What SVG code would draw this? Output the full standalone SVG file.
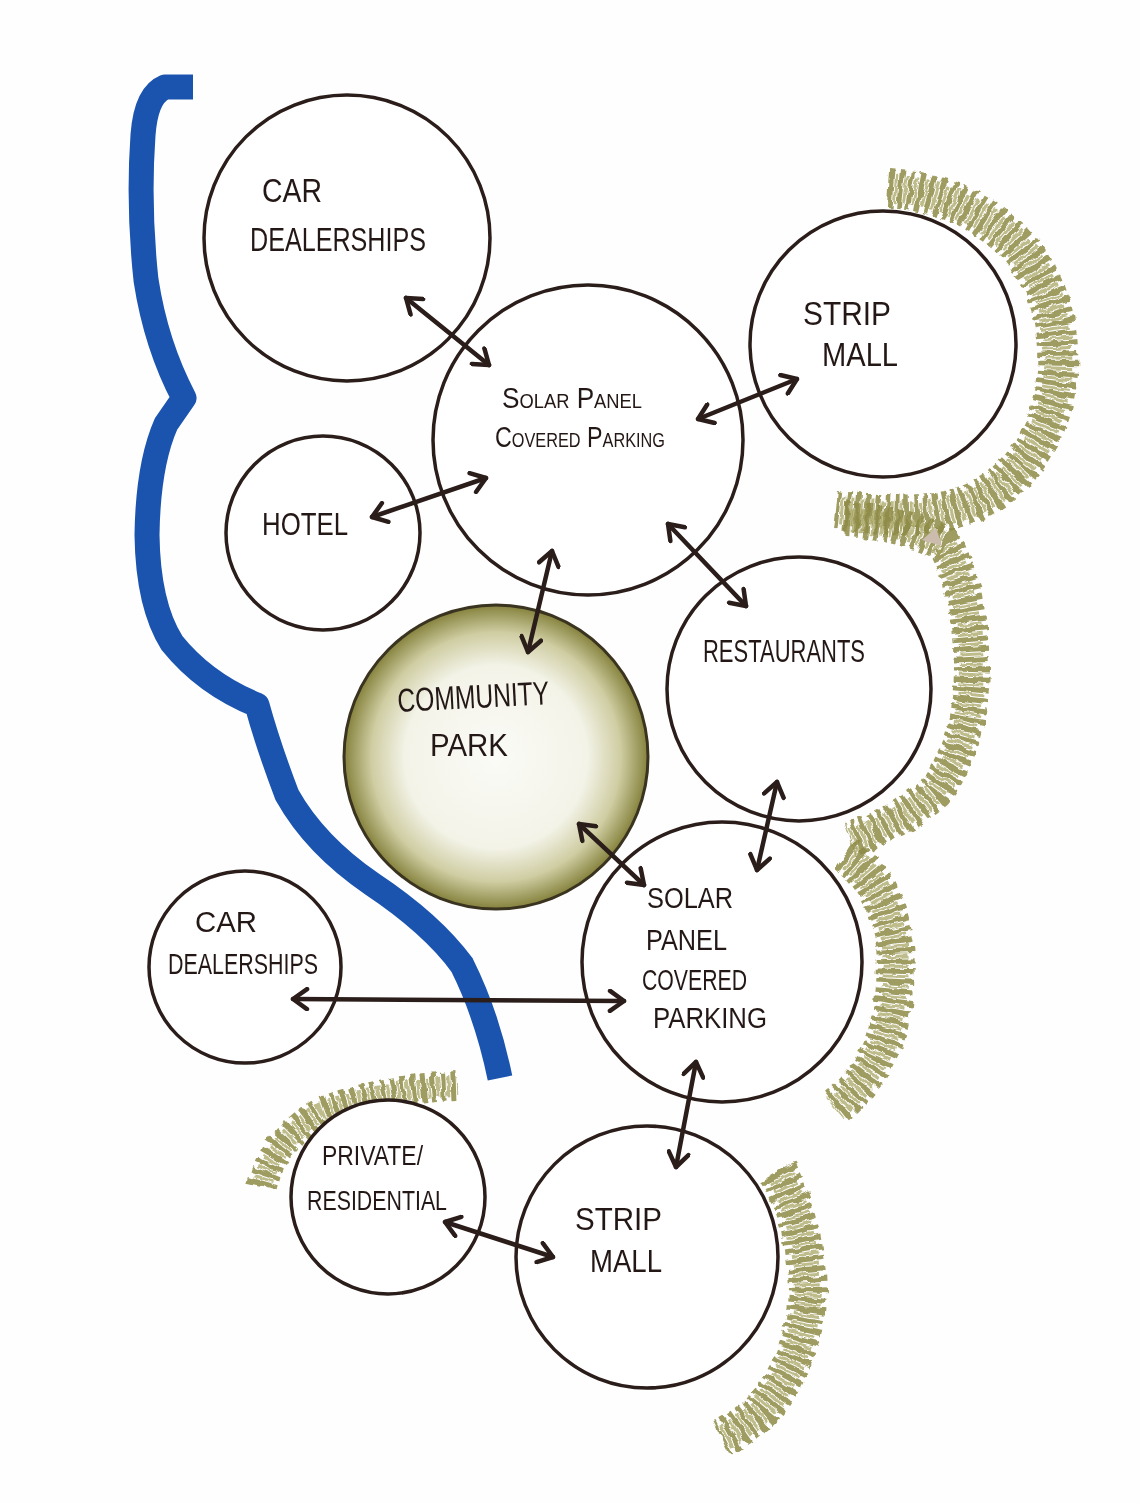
<svg xmlns="http://www.w3.org/2000/svg" width="1140" height="1503" viewBox="0 0 1140 1503">
<style>
.bubble{fill:#ffffff;stroke:#2a1d1a;stroke-width:3.5}
.lbl{font-family:"Liberation Sans","DejaVu Sans",sans-serif;fill:#241816;font-weight:normal}
.sc{font-variant:small-caps}
.conn{fill:none;stroke:#2a1d1a;stroke-width:4.5;stroke-linecap:round;marker-start:url(#chev);marker-end:url(#chev)}
.grass{fill:none;stroke:#8e8b45;stroke-linecap:butt;opacity:0.85}
.grass2{fill:none;stroke:#a3a05a;stroke-linecap:butt;opacity:0.7}
</style>
<defs>
<marker id="chev" viewBox="0 0 24 24" markerWidth="24" markerHeight="24" refX="21" refY="12" orient="auto-start-reverse" markerUnits="userSpaceOnUse">
<path d="M7,2 L21,12 L7,22" fill="none" stroke="#2a1d1a" stroke-width="4.5" stroke-linecap="round" stroke-linejoin="round"/>
</marker>
<radialGradient id="parkFill" cx="50%" cy="50%" r="50%">
<stop offset="0%" stop-color="#fbfbf7"/>
<stop offset="60%" stop-color="#f3f3e8"/>
<stop offset="82%" stop-color="#cfcda2"/>
<stop offset="100%" stop-color="#85823d"/>
</radialGradient>
<filter id="rough" x="-10%" y="-10%" width="120%" height="120%">
<feTurbulence type="fractalNoise" baseFrequency="0.09" numOctaves="2" seed="3"/>
<feDisplacementMap in="SourceGraphic" scale="7" xChannelSelector="R" yChannelSelector="G"/>
</filter>
</defs>
<rect width="1140" height="1503" fill="#fefefe"/>

<g id="river">
<path d="M193 87 L165 87 Q146 95 143 135 Q138 205 146 280 Q156 345 184 398 L166 424 Q148 465 147 535 Q148 605 172 643 Q205 684 257 705 Q268 745 287 795 Q315 845 372 884 Q432 924 462 965 Q487 1015 500 1078" fill="none" stroke="#1b54af" stroke-width="25" stroke-linejoin="round"/>
</g>

<g id="grass" filter="url(#rough)">
<path class="grass" d="M888 188 Q960 192 1012 240 Q1062 292 1058 372 Q1052 442 1000 487 Q950 522 878 514 L836 510" stroke-width="40" stroke-dasharray="5 5"/>
<path class="grass2" d="M888 188 Q960 192 1012 240 Q1062 292 1058 372 Q1052 442 1000 487 Q950 522 878 514 L836 510" stroke-width="28" stroke-dasharray="3 7" stroke-dashoffset="4"/>
<path class="grass" d="M845 520 Q905 522 945 545 Q970 590 972 670 Q970 745 935 792 Q900 822 850 840" stroke-width="36" stroke-dasharray="5 5"/>
<path class="grass2" d="M845 520 Q905 522 945 545 Q970 590 972 670 Q970 745 935 792 Q900 822 850 840" stroke-width="24" stroke-dasharray="3 7" stroke-dashoffset="4"/>
<path class="grass" d="M845 855 Q885 880 895 945 Q900 1020 870 1070 Q852 1095 835 1108" stroke-width="38" stroke-dasharray="5 5"/>
<path class="grass2" d="M845 855 Q885 880 895 945 Q900 1020 870 1070 Q852 1095 835 1108" stroke-width="26" stroke-dasharray="3 7" stroke-dashoffset="4"/>
<path class="grass" d="M262 1186 Q272 1142 322 1112 Q385 1088 458 1086" stroke-width="30" stroke-dasharray="5 5"/>
<path class="grass2" d="M262 1186 Q272 1142 322 1112 Q385 1088 458 1086" stroke-width="20" stroke-dasharray="3 7" stroke-dashoffset="4"/>
<path class="grass" d="M778 1172 Q805 1220 808 1290 Q805 1360 762 1410 Q742 1428 722 1438" stroke-width="38" stroke-dasharray="5 5"/>
<path class="grass2" d="M778 1172 Q805 1220 808 1290 Q805 1360 762 1410 Q742 1428 722 1438" stroke-width="26" stroke-dasharray="3 7" stroke-dashoffset="4"/>
</g>
<polygon points="922,540 936,528 942,546" fill="#cbbcae"/>

<g id="node-car-dealerships-top">
<circle class="bubble" cx="347" cy="238" r="143"/>
<text class="lbl" x="262" y="202" font-size="34" textLength="60" lengthAdjust="spacingAndGlyphs">CAR</text>
<text class="lbl" x="250" y="251" font-size="34" textLength="176" lengthAdjust="spacingAndGlyphs">DEALERSHIPS</text>
</g>

<g id="node-solar-top">
<circle class="bubble" cx="588" cy="440" r="155"/>
<text class="lbl sc" x="502" y="408" font-size="30" textLength="140" lengthAdjust="spacingAndGlyphs">Solar Panel</text>
<text class="lbl sc" x="495" y="447" font-size="30" textLength="170" lengthAdjust="spacingAndGlyphs">Covered Parking</text>
</g>

<g id="node-strip-mall-top">
<circle class="bubble" cx="883" cy="344" r="133"/>
<text class="lbl" x="803" y="325" font-size="34" textLength="88" lengthAdjust="spacingAndGlyphs">STRIP</text>
<text class="lbl" x="822" y="366" font-size="34" textLength="76" lengthAdjust="spacingAndGlyphs">MALL</text>
</g>

<g id="node-hotel">
<circle class="bubble" cx="323" cy="533" r="97"/>
<text class="lbl" x="262" y="535" font-size="31" textLength="86" lengthAdjust="spacingAndGlyphs">HOTEL</text>
</g>

<g id="node-community-park">
<circle cx="496" cy="757" r="152" fill="url(#parkFill)" stroke="#3a3320" stroke-width="3"/>
<text class="lbl" x="398" y="712" font-size="33" textLength="152" lengthAdjust="spacingAndGlyphs" transform="rotate(-3 398 712)">COMMUNITY</text>
<text class="lbl" x="430" y="756" font-size="32" textLength="78" lengthAdjust="spacingAndGlyphs">PARK</text>
</g>

<g id="node-restaurants">
<circle class="bubble" cx="799" cy="689" r="132"/>
<text class="lbl" x="703" y="662" font-size="32" textLength="162" lengthAdjust="spacingAndGlyphs">RESTAURANTS</text>
</g>

<g id="node-solar-bottom">
<circle class="bubble" cx="722" cy="962" r="140"/>
<text class="lbl" x="647" y="908" font-size="30" textLength="86" lengthAdjust="spacingAndGlyphs">SOLAR</text>
<text class="lbl" x="646" y="950" font-size="30" textLength="81" lengthAdjust="spacingAndGlyphs">PANEL</text>
<text class="lbl" x="642" y="990" font-size="30" textLength="105" lengthAdjust="spacingAndGlyphs">COVERED</text>
<text class="lbl" x="653" y="1028" font-size="30" textLength="114" lengthAdjust="spacingAndGlyphs">PARKING</text>
</g>

<g id="node-car-dealerships-bottom">
<circle class="bubble" cx="245" cy="967" r="96"/>
<text class="lbl" x="195" y="932" font-size="30" textLength="62" lengthAdjust="spacingAndGlyphs">CAR</text>
<text class="lbl" x="168" y="974" font-size="30" textLength="150" lengthAdjust="spacingAndGlyphs">DEALERSHIPS</text>
</g>

<g id="node-private-residential">
<circle class="bubble" cx="388" cy="1197" r="97"/>
<text class="lbl" x="322" y="1165" font-size="28" textLength="101" lengthAdjust="spacingAndGlyphs">PRIVATE/</text>
<text class="lbl" x="307" y="1210" font-size="28" textLength="140" lengthAdjust="spacingAndGlyphs">RESIDENTIAL</text>
</g>

<g id="node-strip-mall-bottom">
<circle class="bubble" cx="647" cy="1257" r="131"/>
<text class="lbl" x="575" y="1230" font-size="32" textLength="87" lengthAdjust="spacingAndGlyphs">STRIP</text>
<text class="lbl" x="590" y="1272" font-size="32" textLength="72" lengthAdjust="spacingAndGlyphs">MALL</text>
</g>

<g id="connectors">
<line class="conn" x1="406" y1="298" x2="489" y2="365"/>
<line class="conn" x1="698" y1="419" x2="797" y2="379"/>
<line class="conn" x1="372" y1="517" x2="486" y2="478"/>
<line class="conn" x1="552" y1="551" x2="528" y2="652"/>
<line class="conn" x1="668" y1="524" x2="746" y2="606"/>
<line class="conn" x1="777" y1="782" x2="757" y2="870"/>
<line class="conn" x1="579" y1="824" x2="644" y2="885"/>
<line class="conn" x1="293" y1="999" x2="624" y2="1001"/>
<line class="conn" x1="696" y1="1062" x2="676" y2="1167"/>
<line class="conn" x1="445" y1="1222" x2="553" y2="1257"/>
</g>
</svg>
